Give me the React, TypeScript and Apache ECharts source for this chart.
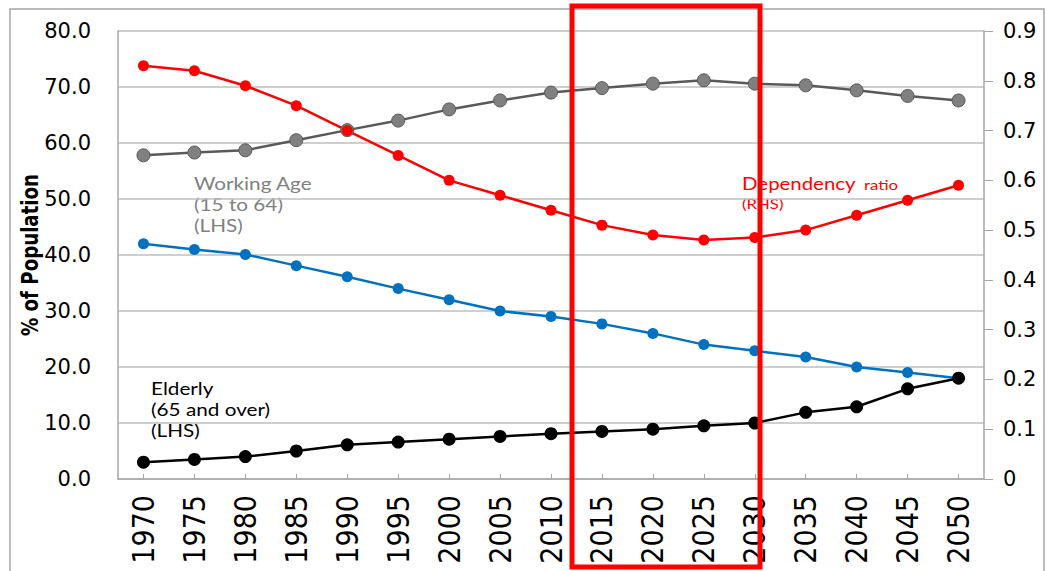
import React, { useEffect, useRef } from "react";
import * as echarts from "echarts";

const years = ["1970","1975","1980","1985","1990","1995","2000","2005","2010","2015","2020","2025","2030","2035","2040","2045","2050"];
const workingAge = [57.8,58.3,58.7,60.5,62.3,64.0,66.0,67.6,69.0,69.8,70.6,71.2,70.6,70.3,69.4,68.4,67.6];
const dependency = [0.83,0.82,0.79,0.75,0.70,0.65,0.60,0.57,0.54,0.51,0.49,0.48,0.485,0.50,0.53,0.56,0.59];
const youth = [42.0,41.0,40.1,38.1,36.1,34.0,32.0,30.0,29.0,27.7,26.0,24.0,22.9,21.8,20.0,19.0,18.0];
const elderly = [3.0,3.5,4.0,5.0,6.1,6.6,7.1,7.6,8.1,8.5,8.9,9.5,10.0,11.9,12.9,16.1,18.0];
const leftTicks = { min: 0, max: 80, interval: 10 };
const rightTicks = { min: 0, max: 0.9, interval: 0.1 };

const narrow = "'DejaVu Sans Condensed', 'Liberation Sans Narrow', 'Arial Narrow', sans-serif";

export default function App() {
  const ref = useRef<HTMLDivElement>(null);
  useEffect(() => {
    const chart = echarts.init(ref.current!, null, { renderer: "svg" });
    const labelFont = "DejaVu Sans";
    chart.setOption({
      animation: false,
      backgroundColor: "#ffffff",
      grid: { left: 118, right: 63, top: 31, bottom: 92 },
      xAxis: {
        type: "category",
        data: years,
        boundaryGap: true,
        axisLine: { show: true, lineStyle: { color: "#a6a6a6", width: 1.5 } },
        axisTick: { show: true, inside: true, alignWithLabel: true, length: 5, lineStyle: { color: "#a6a6a6" } },
        axisLabel: {
          rotate: 90,
          margin: 16,
          fontFamily: narrow,
          fontSize: 30,
          color: "#000",
        },
      },
      yAxis: [
        {
          type: "value",
          ...leftTicks,
          axisLine: { show: true, lineStyle: { color: "#a6a6a6", width: 1.5 } },
          axisTick: { show: false },
          splitLine: { show: true, lineStyle: { color: "#bfbfbf", width: 1.5 } },
          axisLabel: {
            margin: 27,
            fontFamily: labelFont,
            fontSize: 21,
            color: "#000",
            formatter: (v: number) => v.toFixed(1),
          },
        },
        {
          type: "value",
          position: "right",
          ...rightTicks,
          axisLine: { show: true, lineStyle: { color: "#a6a6a6", width: 1.5 } },
          axisTick: { show: true, length: 9, lineStyle: { color: "#a6a6a6" } },
          splitLine: { show: false },
          axisLabel: {
            margin: 19,
            fontFamily: labelFont,
            fontSize: 21,
            color: "#000",
            formatter: (v: number) => (v === 0 ? "0" : v.toFixed(1)),
          },
        },
      ],
      series: [
        {
          name: "Working Age",
          type: "line",
          yAxisIndex: 0,
          data: workingAge,
          symbol: "circle",
          symbolSize: 13,
          lineStyle: { color: "#595959", width: 2.5 },
          itemStyle: { color: "#808080", borderColor: "#595959", borderWidth: 1 },
        },
        {
          name: "Dependency ratio",
          type: "line",
          yAxisIndex: 1,
          data: dependency,
          symbol: "circle",
          symbolSize: 11,
          lineStyle: { color: "#ff0000", width: 2.5 },
          itemStyle: { color: "#ff0000" },
        },
        {
          name: "Youth",
          type: "line",
          yAxisIndex: 0,
          data: youth,
          symbol: "circle",
          symbolSize: 11,
          lineStyle: { color: "#0070c0", width: 2.5 },
          itemStyle: { color: "#0070c0" },
        },
        {
          name: "Elderly",
          type: "line",
          yAxisIndex: 0,
          data: elderly,
          symbol: "circle",
          symbolSize: 13,
          lineStyle: { color: "#000000", width: 2.5 },
          itemStyle: { color: "#000000" },
        },
      ],
      graphic: [
        {
          type: "rect",
          silent: true,
          z: -10,
          shape: { x: 10, y: 9, width: 1034, height: 570 },
          style: { fill: "none", stroke: "#a6a6a6", lineWidth: 1.5 },
        },
        {
          type: "text",
          x: 30,
          y: 255,
          rotation: Math.PI / 2,
          scaleX: 0.88,
          style: {
            text: "% of Population",
            fontFamily: narrow,
            fontWeight: "bold",
            fontSize: 23,
            fill: "#000",
            align: "center",
            verticalAlign: "middle",
          },
        },
        {
          type: "text",
          x: 194,
          y: 173,
          scaleX: 1.22,
          style: {
            text: "Working Age\n(15 to 64)\n(LHS)",
            fontFamily: "Lato",
            fontSize: 17,
            lineHeight: 21,
            fill: "#808080",
          },
        },
        {
          type: "text",
          x: 742,
          y: 192,
          scaleX: 1.2,
          style: {
            text: "Dependency",
            fontFamily: "Lato",
            fontSize: 17,
            fill: "#ff0000",
            verticalAlign: "bottom",
          },
        },
        {
          type: "text",
          x: 864,
          y: 192,
          scaleX: 1.2,
          style: {
            text: "ratio",
            fontFamily: "Lato",
            fontSize: 14,
            fill: "#ff0000",
            verticalAlign: "bottom",
          },
        },
        {
          type: "text",
          x: 742,
          y: 211,
          scaleX: 1.2,
          style: {
            text: "(RHS)",
            fontFamily: "Lato",
            fontSize: 14,
            fill: "#ff0000",
            verticalAlign: "bottom",
          },
        },
        {
          type: "text",
          x: 151,
          y: 378,
          scaleX: 1.22,
          style: {
            text: "Elderly\n(65 and over)\n(LHS)",
            fontFamily: "Lato",
            fontSize: 17,
            lineHeight: 21,
            fill: "#000000",
          },
        },
        {
          type: "rect",
          silent: true,
          z: 100,
          shape: { x: 572, y: 6, width: 188, height: 561 },
          style: { fill: "none", stroke: "#ff0000", lineWidth: 5 },
        },
      ],
    });
    return () => chart.dispose();
  }, []);
  return (
    <div
      ref={ref}
      style={{ position: "absolute", left: 0, top: 0, width: 1047, height: 571 }}
    />
  );
}
